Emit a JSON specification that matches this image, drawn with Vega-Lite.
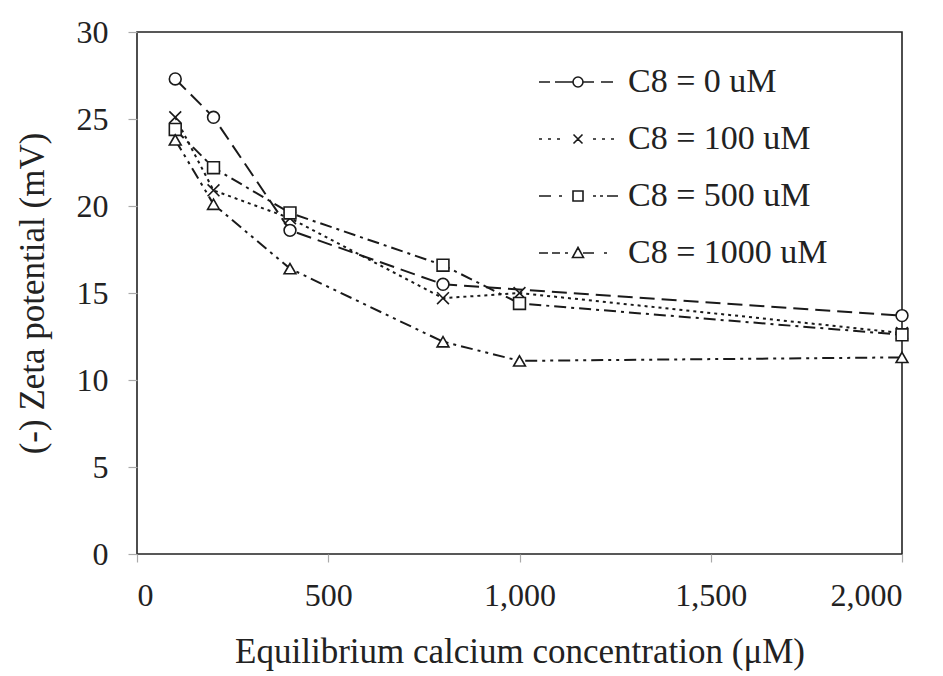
{
  "$schema": "https://vega.github.io/schema/vega-lite/v6.json",
  "width": 765,
  "height": 522,
  "autosize": "none",
  "padding": {"left": 137, "top": 32, "right": 41, "bottom": 122},
  "background": "white",
  "config": {
    "font": "Liberation Serif",
    "view": {"stroke": "#222", "strokeWidth": 1.6},
    "axis": {"grid": false, "domain": false, "tickColor": "#aaa", "tickWidth": 1.2, "labelFont": "Liberation Serif", "labelFontSize": 32, "labelColor": "#222", "titleFont": "Liberation Serif", "titleFontSize": 35, "titleFontWeight": "normal", "titleColor": "#222"}
  },
  "data": {"values": [
    {"s": "C8 = 0 uM", "ca": 100, "z": 27.3},
    {"s": "C8 = 0 uM", "ca": 200, "z": 25.1},
    {"s": "C8 = 0 uM", "ca": 400, "z": 18.6},
    {"s": "C8 = 0 uM", "ca": 800, "z": 15.5},
    {"s": "C8 = 0 uM", "ca": 2000, "z": 13.7},
    {"s": "C8 = 100 uM", "ca": 100, "z": 25.1},
    {"s": "C8 = 100 uM", "ca": 200, "z": 20.9},
    {"s": "C8 = 100 uM", "ca": 400, "z": 19.3},
    {"s": "C8 = 100 uM", "ca": 800, "z": 14.7},
    {"s": "C8 = 100 uM", "ca": 1000, "z": 15.0},
    {"s": "C8 = 100 uM", "ca": 2000, "z": 12.7},
    {"s": "C8 = 500 uM", "ca": 100, "z": 24.4},
    {"s": "C8 = 500 uM", "ca": 200, "z": 22.2},
    {"s": "C8 = 500 uM", "ca": 400, "z": 19.6},
    {"s": "C8 = 500 uM", "ca": 800, "z": 16.6},
    {"s": "C8 = 500 uM", "ca": 1000, "z": 14.4},
    {"s": "C8 = 500 uM", "ca": 2000, "z": 12.6},
    {"s": "C8 = 1000 uM", "ca": 100, "z": 23.8},
    {"s": "C8 = 1000 uM", "ca": 200, "z": 20.1},
    {"s": "C8 = 1000 uM", "ca": 400, "z": 16.4},
    {"s": "C8 = 1000 uM", "ca": 800, "z": 12.2},
    {"s": "C8 = 1000 uM", "ca": 1000, "z": 11.1},
    {"s": "C8 = 1000 uM", "ca": 2000, "z": 11.3}
  ]},
  "encoding": {
    "x": {"field": "ca", "type": "quantitative", "scale": {"domain": [0, 2000], "nice": false},
      "axis": {"values": [0, 500, 1000, 1500, 2000], "format": ",.0f", "tickSize": 8, "labelPadding": 18, "title": "Equilibrium calcium concentration (μM)", "titleY": 108, "titleBaseline": "alphabetic"}},
    "y": {"field": "z", "type": "quantitative", "scale": {"domain": [0, 30], "nice": false},
      "axis": {"values": [0, 5, 10, 15, 20, 25, 30], "format": "d", "tickSize": 9, "labelPadding": 20, "title": "(-) Zeta potential (mV)", "titleX": -105, "titleBaseline": "middle"}}
  },
  "layer": [
    {
      "mark": {"type": "line", "color": "#1a1a1a", "strokeWidth": 2},
      "encoding": {
        "detail": {"field": "s"},
        "strokeDash": {"field": "s", "type": "nominal", "legend": null,
          "scale": {"domain": ["C8 = 0 uM", "C8 = 100 uM", "C8 = 500 uM", "C8 = 1000 uM"],
            "range": [[15, 7], [3, 4], [12, 5, 3, 5], [12, 5, 3, 5, 3, 5]]}}
      }
    },
    {
      "mark": {"type": "point", "filled": true, "fill": "white", "stroke": "#1a1a1a", "strokeWidth": 1.6, "size": 140, "opacity": 1},
      "encoding": {
        "shape": {"field": "s", "type": "nominal", "legend": null,
          "scale": {"domain": ["C8 = 0 uM", "C8 = 100 uM", "C8 = 500 uM", "C8 = 1000 uM"],
            "range": ["circle", "M-1,-1L1,1M-1,1L1,-1", "square", "triangle-up"]}}
      }
    },
    {
      "transform": [{"filter": "datum.z > 100"}],
      "mark": {"type": "point", "filled": false, "color": "#1a1a1a", "strokeWidth": 1.6, "opacity": 1},
      "encoding": {
        "shape": {"field": "s", "type": "nominal",
          "scale": {"domain": ["C8 = 0 uM", "C8 = 100 uM", "C8 = 500 uM", "C8 = 1000 uM"],
            "range": [
              "M-3.4,0H-2.3M-1.8,0H0M1,0A0.5,0.5 0 1,1 0,0A0.5,0.5 0 1,1 1,0M1,0H2.1M2.8,0H4",
              "M-3.4,0h0.3M-2.5,0h0.3M-1.6,0h0.3M0.05,-0.45L0.95,0.45M0.05,0.45L0.95,-0.45M2,0h0.3M2.9,0h0.3M3.8,0h0.3",
              "M-3.4,0H-2.2M-1.4,0h0.3M0,-0.5H1V0.5H0ZM2,0h0.3M2.7,0h0.3M3.4,0H4.5",
              "M-3.4,0H-2.5M-2.1,0H-1.3M-0.8,0h0.3M0.5,-0.55L1.05,0.45L-0.05,0.45ZM1,0H2.1M3.1,0h0.3"
            ]},
          "legend": {
            "title": null, "orient": "none", "legendX": 419, "legendY": 33, "padding": 0,
            "symbolSize": 400, "symbolStrokeWidth": 1.6, "symbolStrokeColor": "#1a1a1a", "symbolOpacity": 1,
            "labelFont": "Liberation Serif", "labelFontSize": 34, "labelColor": "#222", "labelOffset": 38, "labelLimit": 400,
            "rowPadding": 23
          }
        }
      }
    }
  ],
  "resolve": {"scale": {"shape": "independent"}}
}
